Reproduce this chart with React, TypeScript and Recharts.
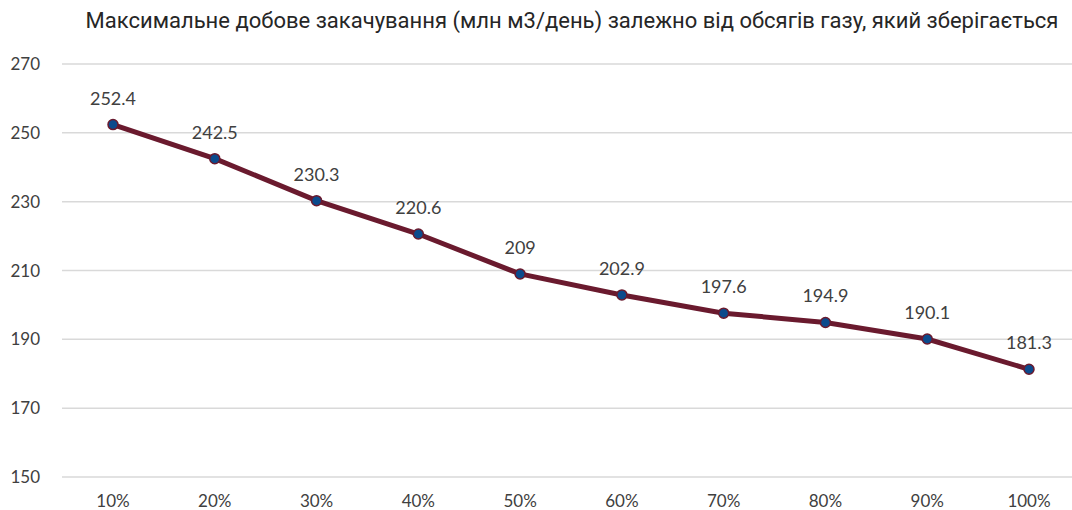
import { LineChart, Line, XAxis, YAxis, CartesianGrid, LabelList } from "recharts";

const categories = ["10%", "20%", "30%", "40%", "50%", "60%", "70%", "80%", "90%", "100%"];
const injection = [252.4, 242.5, 230.3, 220.6, 209, 202.9, 197.6, 194.9, 190.1, 181.3];
const yTicks = [150, 170, 190, 210, 230, 250, 270];

const title = "Максимальне добове закачування (млн м3/день) залежно від обсягів газу, який зберігається";

const data = categories.map((name, i) => ({ name, value: injection[i] }));

const tickFont = { fontFamily: "Lato, 'DejaVu Sans', sans-serif", fontSize: 17, fill: "#404040" };
const labelFont = { fontFamily: "Lato, 'DejaVu Sans', sans-serif", fontSize: 18, fill: "#404040" };

export default function App() {
  return (
    <div style={{ position: "absolute", left: 0, top: 0, width: 1072, height: 510, overflow: "hidden", background: "#fff" }}>
      <div
        style={{
          position: "absolute",
          left: 0,
          width: 1144,
          top: 8,
          textAlign: "center",
          fontFamily: "Roboto, 'Liberation Sans', sans-serif",
          fontSize: 22,
          color: "#262626",
          whiteSpace: "nowrap",
        }}
      >
        {title}
      </div>
      <LineChart width={1090} height={510} data={data} margin={{ top: 64, right: 0, bottom: 0, left: 0 }}>
        <CartesianGrid vertical={false} stroke="#d9d9d9" strokeWidth={1.5} />
        <XAxis
          dataKey="name"
          axisLine={false}
          tickLine={false}
          height={33}
          padding={{ left: 51, right: 61 }}
          tick={tickFont}
          tickMargin={12}
        />
        <YAxis
          domain={[150, 270]}
          ticks={yTicks}
          axisLine={false}
          tickLine={false}
          width={62}
          tick={tickFont}
          tickMargin={16}
        />
        <Line
          type="linear"
          dataKey="value"
          stroke="#6a1a2e"
          strokeWidth={5}
          dot={{ r: 5, fill: "#0b4a8c", stroke: "#6a1a2e", strokeWidth: 1.5 }}
          isAnimationActive={false}
        >
          <LabelList dataKey="value" position="top" offset={20} style={labelFont} />
        </Line>
      </LineChart>
    </div>
  );
}
